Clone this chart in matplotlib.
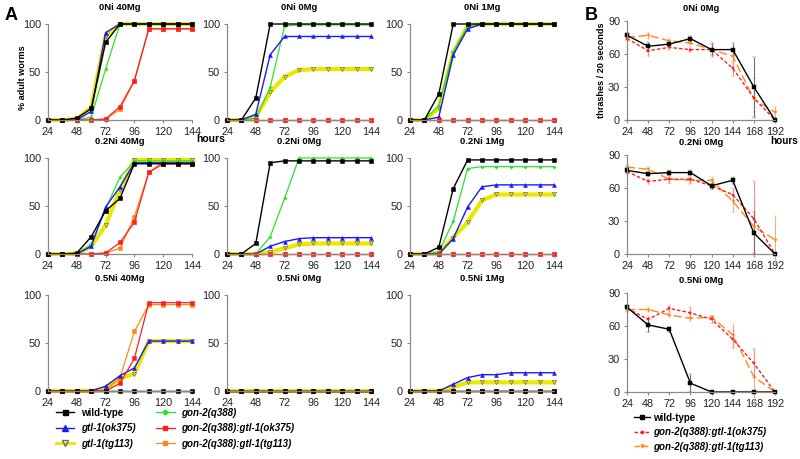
import matplotlib
matplotlib.use('Agg')
import matplotlib.pyplot as plt
from matplotlib.lines import Line2D

plt.rcParams['font.family'] = ['Liberation Sans', 'DejaVu Sans']

# hours of development (panel A) and of adulthood (panel B)
hours_a = [24, 36, 48, 60, 72, 84, 96, 108, 120, 132, 144]
hours_b = [24, 48, 72, 96, 120, 144, 168, 192]

strains = ['wt', 'ok375', 'tg113', 'q388', 'q388_ok375', 'q388_tg113']
labels = ['wild-type', 'gtl-1(ok375)', 'gtl-1(tg113)', 'gon-2(q388)',
          'gon-2(q388):gtl-1(ok375)', 'gon-2(q388):gtl-1(tg113)']

# % adult worms, one dict per condition
ni0_mg40 = {
    'wt':         [0, 0, 2, 12, 81, 100, 100, 100, 100, 100, 100],
    'ok375':      [0, 0, 0, 9, 91, 100, 100, 100, 100, 100, 100],
    'tg113':      [0, 0, 1, 13, 88, 100, 100, 100, 100, 100, 100],
    'q388':       [0, 0, 0, 3, 53, 100, 100, 100, 100, 100, 100],
    'q388_ok375': [0, 0, 0, 0, 1, 14, 41, 95, 95, 95, 95],
    'q388_tg113': [0, 0, 0, 0, 1, 11, 41, 95, 95, 95, 95],
}
ni0_mg0 = {
    'wt':         [0, 0, 23, 100, 100, 100, 100, 100, 100, 100, 100],
    'ok375':      [0, 0, 6, 68, 87, 87, 87, 87, 87, 87, 87],
    'tg113':      [0, 0, 3, 29, 45, 52, 53, 53, 53, 53, 53],
    'q388':       [0, 0, 2, 34, 98, 99, 99, 99, 99, 99, 99],
    'q388_ok375': [0, 0, 0, 0, 0, 0, 0, 0, 0, 0, 0],
    'q388_tg113': [0, 0, 0, 0, 0, 0, 0, 0, 0, 0, 0],
}
ni0_mg1 = {
    'wt':         [0, 0, 27, 100, 100, 100, 100, 100, 100, 100, 100],
    'ok375':      [0, 0, 3, 68, 95, 100, 100, 100, 100, 100, 100],
    'tg113':      [0, 0, 12, 70, 98, 100, 100, 100, 100, 100, 100],
    'q388':       [0, 0, 15, 71, 98, 100, 100, 100, 100, 100, 100],
    'q388_ok375': [0, 0, 0, 0, 0, 0, 0, 0, 0, 0, 0],
    'q388_tg113': [0, 0, 0, 0, 0, 0, 0, 0, 0, 0, 0],
}
ni02_mg40 = {
    'wt':         [0, 0, 1, 18, 45, 58, 94, 94, 94, 94, 94],
    'ok375':      [0, 0, 0, 8, 49, 70, 95, 95, 95, 95, 95],
    'tg113':      [0, 0, 0, 8, 30, 67, 98, 98, 98, 98, 98],
    'q388':       [0, 0, 0, 10, 47, 80, 97, 97, 97, 97, 97],
    'q388_ok375': [0, 0, 0, 0, 1, 12, 33, 85, 94, 94, 94],
    'q388_tg113': [0, 0, 0, 0, 1, 6, 39, 85, 96, 96, 96],
}
ni02_mg0 = {
    'wt':         [0, 0, 11, 95, 97, 97, 97, 97, 97, 97, 97],
    'ok375':      [0, 0, 0, 8, 13, 16, 17, 17, 17, 17, 17],
    'tg113':      [0, 0, 0, 2, 6, 10, 11, 11, 11, 11, 11],
    'q388':       [0, 0, 0, 18, 58, 100, 100, 100, 100, 100, 100],
    'q388_ok375': [0, 0, 0, 0, 0, 0, 0, 0, 0, 0, 0],
    'q388_tg113': [0, 0, 0, 0, 0, 0, 0, 0, 0, 0, 0],
}
ni02_mg1 = {
    'wt':         [0, 0, 7, 68, 98, 98, 98, 98, 98, 98, 98],
    'ok375':      [0, 0, 0, 16, 49, 70, 72, 72, 72, 72, 72],
    'tg113':      [0, 0, 1, 17, 33, 56, 62, 62, 62, 62, 62],
    'q388':       [0, 0, 2, 34, 89, 91, 91, 91, 91, 91, 91],
    'q388_ok375': [0, 0, 0, 0, 0, 0, 0, 0, 0, 0, 0],
    'q388_tg113': [0, 0, 0, 0, 0, 0, 0, 0, 0, 0, 0],
}
ni05_mg40 = {
    'wt':         [0, 0, 0, 0, 0, 0, 0, 0, 0, 0, 0],
    'ok375':      [0, 0, 0, 0, 5, 16, 24, 52, 52, 52, 52],
    'tg113':      [0, 0, 0, 0, 2, 13, 18, 52, 52, 52, 52],
    'q388':       [0, 0, 0, 0, 0, 0, 0, 0, 0, 0, 0],
    'q388_ok375': [0, 0, 0, 0, 0, 8, 34, 92, 92, 92, 92],
    'q388_tg113': [0, 0, 0, 0, 1, 14, 62, 90, 90, 90, 90],
}
ni05_mg0 = {
    'wt':         [0, 0, 0, 0, 0, 0, 0, 0, 0, 0, 0],
    'ok375':      [0, 0, 0, 0, 0, 0, 0, 0, 0, 0, 0],
    'tg113':      [0, 0, 0, 0, 0, 0, 0, 0, 0, 0, 0],
    'q388':       [0, 0, 0, 0, 0, 0, 0, 0, 0, 0, 0],
    'q388_ok375': [0, 0, 0, 0, 0, 0, 0, 0, 0, 0, 0],
    'q388_tg113': [0, 0, 0, 0, 0, 0, 0, 0, 0, 0, 0],
}
ni05_mg1 = {
    'wt':         [0, 0, 0, 0, 0, 0, 0, 0, 0, 0, 0],
    'ok375':      [0, 0, 0, 7, 14, 17, 17, 19, 19, 19, 19],
    'tg113':      [0, 0, 0, 4, 9, 9, 9, 9, 9, 9, 9],
    'q388':       [0, 0, 0, 0, 0, 0, 0, 0, 0, 0, 0],
    'q388_ok375': [0, 0, 0, 0, 0, 0, 0, 0, 0, 0, 0],
    'q388_tg113': [0, 0, 0, 0, 0, 0, 0, 0, 0, 0, 0],
}

# thrashes / 20 s (panel B): means and error bars
b_ni0_wt = [77, 67, 69, 74, 64, 64, 30, 0]
b_ni0_wt_err = [2, 4, 2, 2, 5, 6, 27, 0]
b_ni0_ok = [74, 63, 66, 64, 64, 47, 20, 0]
b_ni0_ok_err = [2, 5, 2, 2, 7, 7, 18, 0]
b_ni0_tg = [75, 77, 72, 70, 64, 58, 19, 7]
b_ni0_tg_err = [2, 3, 3, 2, 5, 5, 12, 6]

b_ni02_wt = [76, 73, 74, 74, 62, 67, 19, 0]
b_ni02_wt_err = [2, 2, 2, 2, 3, 3, 19, 0]
b_ni02_ok = [75, 66, 68, 68, 62, 54, 32, 0]
b_ni02_ok_err = [2, 2, 3, 3, 3, 6, 34, 0]
b_ni02_tg = [79, 77, 68, 67, 67, 48, 25, 13]
b_ni02_tg_err = [2, 2, 3, 3, 3, 10, 24, 22]

b_ni05_wt = [77, 61, 57, 8, 0, 0, 0, 0]
b_ni05_wt_err = [2, 6, 2, 8, 0, 0, 0, 0]
b_ni05_ok = [76, 66, 76, 72, 66, 48, 26, 0]
b_ni05_ok_err = [2, 3, 3, 5, 3, 8, 13, 0]
b_ni05_tg = [75, 75, 70, 67, 68, 52, 14, 0]
b_ni05_tg_err = [2, 2, 2, 2, 2, 10, 25, 0]

styles = {
    'tg113':      dict(color='#e8e800', lw=3.0, marker='v', ms=3.0, mfc='none', mec='#707050', mew=0.5),
    'q388_tg113': dict(color='#ff8a1c', lw=0.9, marker='s', ms=2.4, mew=0.4),
    'q388':       dict(color='#2ee02e', lw=0.9, marker='P', ms=2.2, mew=0.3),
    'ok375':      dict(color='#1a1aff', lw=1.0, marker='^', ms=2.8, mew=0.4),
    'q388_ok375': dict(color='#ff1e1e', lw=0.9, marker='s', ms=2.2, mew=0.4),
    'wt':         dict(color='black', lw=1.0, marker='s', ms=2.6, mew=0.4),
}
draw_order = ['tg113', 'q388_tg113', 'q388', 'ok375', 'q388_ok375', 'wt']

tick_fs = 7.8
title_fs = 6.8
axis_col = '#8a8a8a'

fig = plt.figure(figsize=(8, 4.59), dpi=100)


def style_axes(ax):
    for s in ['top', 'right']:
        ax.spines[s].set_visible(False)
    for s in ['left', 'bottom']:
        ax.spines[s].set_color(axis_col)
        ax.spines[s].set_linewidth(0.9)
    ax.tick_params(axis='both', length=2.5, width=0.8, color=axis_col,
                   labelsize=tick_fs, pad=2.5, labelcolor='#222222')


col_left = [48, 227, 410]
row_top = [24, 158, 295]
panels_a = [
    [(ni0_mg40, '0Ni 40Mg'), (ni0_mg0, '0Ni 0Mg'), (ni0_mg1, '0Ni 1Mg')],
    [(ni02_mg40, '0.2Ni 40Mg'), (ni02_mg0, '0.2Ni 0Mg'), (ni02_mg1, '0.2Ni 1Mg')],
    [(ni05_mg40, '0.5Ni 40Mg'), (ni05_mg0, '0.5Ni 0Mg'), (ni05_mg1, '0.5Ni 1Mg')],
]

for r in range(3):
    for c in range(3):
        data, title = panels_a[r][c]
        left = col_left[c] / 800
        bottom = 1 - (row_top[r] + 96) / 459
        ax = fig.add_axes([left, bottom, 144 / 800, 96 / 459])
        for k in draw_order:
            ax.plot(hours_a, data[k], clip_on=False, **styles[k])
        ax.set_xlim(24, 144)
        ax.set_ylim(0, 100)
        ax.set_xticks([24, 48, 72, 96, 120, 144])
        ax.set_yticks([0, 50, 100])
        style_axes(ax)
        ax.set_title(title, fontsize=title_fs, fontweight='bold', pad=10)
        if r == 0 and c == 0:
            ax.set_ylabel('% adult worms', fontsize=6.6, fontweight='bold')
            ax.yaxis.set_label_coords(-0.145, 0.44)
            ax.text(1.03, -0.15, 'hours', transform=ax.transAxes, fontsize=7.5,
                    fontweight='bold', ha='left', va='top')

# panel B
panels_b = [
    ('0Ni 0Mg', b_ni0_wt, b_ni0_wt_err, b_ni0_ok, b_ni0_ok_err, b_ni0_tg, b_ni0_tg_err, 21),
    ('0.2Ni 0Mg', b_ni02_wt, b_ni02_wt_err, b_ni02_ok, b_ni02_ok_err, b_ni02_tg, b_ni02_tg_err, 155),
    ('0.5Ni 0Mg', b_ni05_wt, b_ni05_wt_err, b_ni05_ok, b_ni05_ok_err, b_ni05_tg, b_ni05_tg_err, 293),
]
for i, (title, wt, wte, ok, oke, tg, tge, top) in enumerate(panels_b):
    ax = fig.add_axes([627 / 800, 1 - (top + 99) / 459, 148 / 800, 99 / 459])
    ax.errorbar(hours_b, tg, yerr=tge, color='#ff8a1c', ecolor='#f0b080', elinewidth=0.8,
                capsize=1.5, capthick=0.6, lw=1.0, ls=(0, (6, 2.5)), marker='v', ms=2.2,
                mew=0.3, clip_on=False)
    ax.errorbar(hours_b, ok, yerr=oke, color='#ff1e1e', ecolor='#f09090', elinewidth=0.8,
                capsize=1.5, capthick=0.6, lw=1.0, ls=(0, (2.5, 1.5)), marker='s', ms=2.0,
                mew=0.3, clip_on=False)
    ax.errorbar(hours_b, wt, yerr=wte, color='black', ecolor='#707070', elinewidth=0.8,
                capsize=1.5, capthick=0.6, lw=1.0, marker='s', ms=2.6, mew=0.3, clip_on=False)
    ax.set_xlim(24, 192)
    ax.set_ylim(0, 90)
    ax.set_xticks(hours_b)
    ax.set_yticks([0, 30, 60, 90])
    style_axes(ax)
    ax.set_title(title, fontsize=title_fs, fontweight='bold', pad=7)
    if i == 0:
        ax.set_ylabel('thrashes / 20 seconds', fontsize=6.6, fontweight='bold')
        ax.yaxis.set_label_coords(-0.145, 0.5)
        ax.text(0.97, -0.165, 'hours', transform=ax.transAxes, fontsize=7.2,
                fontweight='bold', ha='left', va='top')

fig.text(5 / 800, 1 - 16 / 459, 'A', fontsize=13, fontweight='bold', va='center', ha='left')
fig.text(585 / 800, 1 - 16 / 459, 'B', fontsize=13, fontweight='bold', va='center', ha='left')

# legend A
handles_a = []
for k in strains:
    st = styles[k]
    h = Line2D([], [], color=st['color'], lw=min(st['lw'], 2.0), marker=st['marker'], ms=st['ms'] + 1,
               mfc=st.get('mfc', st['color']), mec=st.get('mec', st['color']))
    handles_a.append(h)
leg_a = fig.legend(handles_a, labels, ncol=2, frameon=False, loc='upper left',
                   bbox_to_anchor=(52 / 800, 1 - 404 / 459), fontsize=7.0,
                   handlelength=1.9, handletextpad=0.7, labelspacing=0.55, columnspacing=2.1,
                   borderaxespad=0)
for t in leg_a.get_texts():
    t.set_fontweight('bold')
    if t.get_text() != 'wild-type':
        t.set_fontstyle('italic')

# legend B
handles_b = [
    Line2D([], [], color='black', lw=1.0, marker='s', ms=2.6),
    Line2D([], [], color='#ff1e1e', lw=1.0, ls=(0, (2.5, 1.5)), marker='s', ms=2.0),
    Line2D([], [], color='#ff8a1c', lw=1.0, ls=(0, (4, 2)), marker='v', ms=2.2),
]
leg_b = fig.legend(handles_b, ['wild-type', labels[4], labels[5]], frameon=False, loc='upper left',
                   bbox_to_anchor=(630 / 800, 1 - 409 / 459), fontsize=7.0,
                   handlelength=1.7, handletextpad=0.3, labelspacing=0.45, borderaxespad=0)
for t in leg_b.get_texts():
    t.set_fontweight('bold')
    if t.get_text() != 'wild-type':
        t.set_fontstyle('italic')

fig.savefig('out.png', dpi=100)
